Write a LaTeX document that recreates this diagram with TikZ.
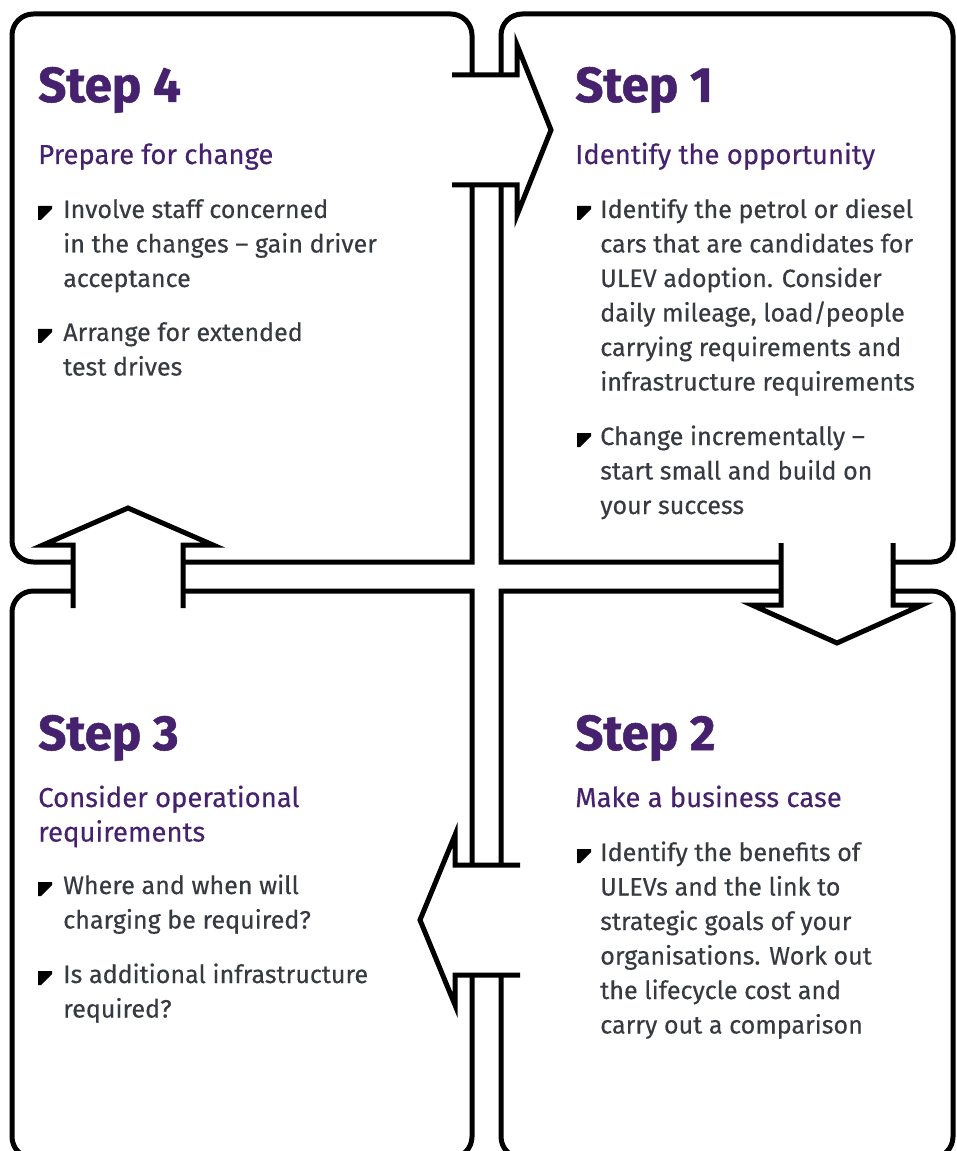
\documentclass[tikz,border=0pt]{standalone}
\usepackage{fontspec}
\setmainfont{Fira Sans}
\newfontfamily\bodyfont{Fira Sans}[FakeBold=0.35]
\newfontfamily\headfont{Fira Sans Bold}[FakeBold=1.0]
\definecolor{stepPurple}{RGB}{70,34,110}
\definecolor{bodyGray}{RGB}{55,58,64}
\newcommand{\bulletmark}[2]{\fill[black] (#1,#2) -- ++(14,0) -- ++(0,3) -- ++(-11,11) -- ++(-3,0) -- cycle;}
\begin{document}
\begin{tikzpicture}[x=0.75pt,y=-0.75pt,
  frame/.style={line width=3.75pt, rounded corners=16pt, line cap=rect, line join=miter},
  bigarrow/.style={fill=white, draw=black, line width=3.75pt, line join=miter, line cap=butt},
  heading/.style={anchor=base west, inner sep=0pt, text=stepPurple, font=\headfont\fontsize{37}{39}\selectfont},
  subhead/.style={anchor=base west, inner sep=0pt, text=stepPurple, font=\bodyfont\fontsize{20.6}{24}\selectfont},
  body/.style={anchor=base west, inner sep=0pt, text=bodyGray, font=\bodyfont\fontsize{18.8}{24}\selectfont},
]
\useasboundingbox (0,0) rectangle (956,1151);
\fill[white] (0,0) rectangle (956,1151);
\clip (0,0) rectangle (956,1151);
% boxes
\draw[frame] (472,562) -- (12,562) -- (12,14) -- (472,14) -- (472,562);
\draw[frame] (501,562) -- (953,562) -- (953,14) -- (501,14) -- (501,562);
\draw[frame] (472,591) -- (12,591) -- (12,1158) -- (472,1158) -- (472,591);
\draw[frame] (501,591) -- (953,591) -- (953,1158) -- (501,1158) -- (501,591);
% arrows
\path[bigarrow] (452,75) -- (517,75) -- (517,45) -- (551,130) -- (517,215) -- (517,185) -- (452,185);
\path[bigarrow] (781,543) -- (781,605) -- (752,605) -- (837,643) -- (922,605) -- (893,605) -- (893,543);
\path[bigarrow] (73,608) -- (73,545) -- (43,545) -- (128,508) -- (213,545) -- (183,545) -- (183,608);
\path[bigarrow] (520,865) -- (455,865) -- (455,835) -- (420,920) -- (455,1005) -- (455,975) -- (520,975);
% Step 4
\node[heading] (s4) at (38,102) {Step 4};
\node[subhead] (s4sub) at (38,164) {Prepare for change};
\bulletmark{38}{206}
\node[body] (s4a1) at (63,218) {Involve staff concerned};
\node[body] (s4a2) at (63,252.5) {in the changes – gain driver};
\node[body] (s4a3) at (63,287) {acceptance};
\bulletmark{38}{329}
\node[body] (s4b1) at (63,341) {Arrange for extended};
\node[body] (s4b2) at (63,375.5) {test drives};
% Step 1
\node[heading] (s1) at (575,102) {Step 1};
\node[subhead] (s1sub) at (575,164) {Identify the opportunity};
\bulletmark{577}{206}
\node[body] (s1a1) at (600,218) {Identify the petrol or diesel};
\node[body] (s1a2) at (600,252.5) {cars that are candidates for};
\node[body] (s1a3) at (600,287) {ULEV adoption. Consider};
\node[body] (s1a4) at (600,321.5) {daily mileage, load/people};
\node[body] (s1a5) at (600,356) {carrying requirements and};
\node[body] (s1a6) at (600,390.5) {infrastructure requirements};
\bulletmark{577}{433}
\node[body] (s1b1) at (600,445) {Change incrementally –};
\node[body] (s1b2) at (600,479.5) {start small and build on};
\node[body] (s1b3) at (600,514) {your success};
% Step 3
\node[heading] (s3) at (38,750) {Step 3};
\node[subhead] (s3sub1) at (38,807) {Consider operational};
\node[subhead] (s3sub2) at (38,841.5) {requirements};
\bulletmark{38}{882}
\node[body] (s3a1) at (63,894) {Where and when will};
\node[body] (s3a2) at (63,928.5) {charging be required?};
\bulletmark{38}{971}
\node[body] (s3b1) at (63,983) {Is additional infrastructure};
\node[body] (s3b2) at (63,1017.5) {required?};
% Step 2
\node[heading] (s2) at (575,750) {Step 2};
\node[subhead] (s2sub) at (575,807) {Make a business case};
\bulletmark{577}{849}
\node[body] (s2a1) at (600,861) {Identify the benefits of};
\node[body] (s2a2) at (600,895.5) {ULEVs and the link to};
\node[body] (s2a3) at (600,930) {strategic goals of your};
\node[body] (s2a4) at (600,964.5) {organisations. Work out};
\node[body] (s2a5) at (600,999) {the lifecycle cost and};
\node[body] (s2a6) at (600,1033.5) {carry out a comparison};
\end{tikzpicture}
\end{document}
